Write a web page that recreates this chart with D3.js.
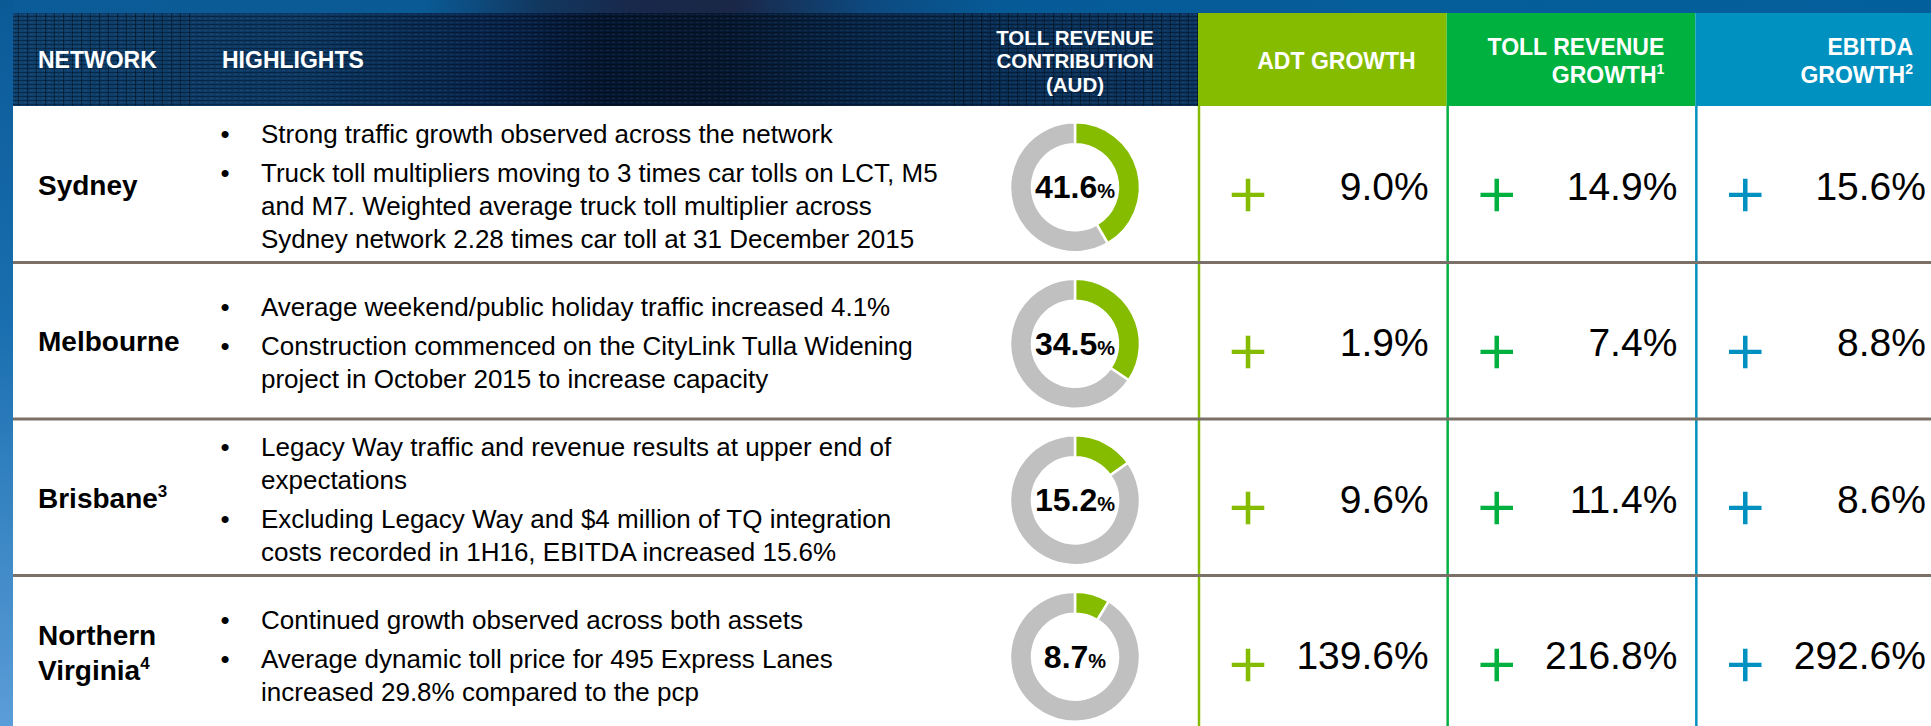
<!DOCTYPE html>
<html>
<head>
<meta charset="utf-8">
<script src="https://cdn.jsdelivr.net/npm/d3@7"></script>
<style>
  html, body { margin: 0; padding: 0; background: #fff; }
  svg { display: block; font-family: "Liberation Sans", Arial, sans-serif; }
</style>
</head>
<body>
<svg id="chart" width="1931" height="726"></svg>
<script>
// table content
const networks = ['Sydney', 'Melbourne', 'Brisbane', 'Northern Virginia'];
const networkLines = [['Sydney'], ['Melbourne'], ['Brisbane'], ['Northern', 'Virginia']];
const networkNotes = ['', '', '3', '4'];

const highlights = [
  [['Strong traffic growth observed across the network'],
   ['Truck toll multipliers moving to 3 times car tolls on LCT, M5',
    'and M7. Weighted average truck toll multiplier across',
    'Sydney network 2.28 times car toll at 31 December 2015']],
  [['Average weekend/public holiday traffic increased 4.1%'],
   ['Construction commenced on the CityLink Tulla Widening',
    'project in October 2015 to increase capacity']],
  [['Legacy Way traffic and revenue results at upper end of',
    'expectations'],
   ['Excluding Legacy Way and $4 million of TQ integration',
    'costs recorded in 1H16, EBITDA increased 15.6%']],
  [['Continued growth observed across both assets'],
   ['Average dynamic toll price for 495 Express Lanes',
    'increased 29.8% compared to the pcp']]
];

// toll revenue contribution, % of total (AUD)
const tollShare = [41.6, 34.5, 15.2, 8.7];

// growth columns, %
const adtGrowth = [9.0, 1.9, 9.6, 139.6];
const tollRevenueGrowth = [14.9, 7.4, 11.4, 216.8];
const ebitdaGrowth = [15.6, 8.8, 8.6, 292.6];

const metricNames = ['ADT GROWTH', 'TOLL REVENUE GROWTH', 'EBITDA GROWTH'];
const metricLines = [['ADT GROWTH'], ['TOLL REVENUE', 'GROWTH'], ['EBITDA', 'GROWTH']];
const metricNotes = ['', '1', '2'];
const metricValues = [adtGrowth, tollRevenueGrowth, ebitdaGrowth];
const metricColors = ['#86bc00', '#00b140', '#0091c1'];

const headerLabels = ['NETWORK', 'HIGHLIGHTS'];
const contributionLabel = ['TOLL REVENUE', 'CONTRIBUTION', '(AUD)'];

// page geometry
const W = 1931, H = 726;
const stripW = 13, bandH = 13, headBottom = 106;
const labelX = 38, bulletX = 225, textX = 261, donutX = 1075;

const svg = d3.select('#chart');
const defs = svg.append('defs');

const addGradient = (id, x2, y2, stops) => {
  const g = defs.append('linearGradient')
    .attr('id', id)
    .attr('gradientUnits', 'userSpaceOnUse')
    .attr('x1', 0).attr('y1', 0).attr('x2', x2).attr('y2', y2);
  stops.forEach(([o, c]) => g.append('stop').attr('offset', o).attr('stop-color', c));
};

addGradient('topBand', W, 0, [
  [0, '#0b5c98'], [0.22, '#0a5a95'], [0.28, '#12375f'], [0.33, '#18284a'],
  [0.38, '#1a2747'], [0.45, '#0d4a80'], [0.52, '#065b97'], [1, '#035f9b']
]);
addGradient('headBody', 1198, 0, [
  [0, '#0f416e'], [0.25, '#0c3862'], [0.42, '#08234a'], [0.5, '#051630'],
  [0.6, '#06172f'], [0.72, '#082648'], [0.85, '#0a3058'], [1, '#0b3560']
]);
addGradient('strip', 0, H, [
  [0, '#0a5a96'], [0.45, '#1a6fb0'], [1, '#5b9dd8']
]);

// scan-line texture of the dark header
const scan = defs.append('pattern')
  .attr('id', 'scan').attr('patternUnits', 'userSpaceOnUse')
  .attr('width', 6).attr('height', 4);
scan.append('rect').attr('width', 6).attr('height', 1).attr('fill', 'rgba(0,0,0,0.35)');
scan.append('rect').attr('y', 2).attr('width', 3).attr('height', 1).attr('fill', 'rgba(140,180,230,0.10)');
const vgrid = defs.append('pattern')
  .attr('id', 'vgrid').attr('patternUnits', 'userSpaceOnUse')
  .attr('width', 9).attr('height', 4);
vgrid.append('rect').attr('width', 1).attr('height', 4).attr('fill', 'rgba(0,0,0,0.4)');

// scales
const y = d3.scaleBand().domain(networks).range([headBottom, 732]);
const x = d3.scaleBand().domain(metricNames).range([1198, 1944]);
const rowMid = n => y(n) + y.bandwidth() / 2;

// backgrounds
svg.append('rect').attr('width', W).attr('height', H).attr('fill', '#fff');
svg.append('rect').attr('width', W).attr('height', bandH).attr('fill', 'url(#topBand)');
svg.append('rect').attr('x', stripW).attr('y', bandH)
  .attr('width', 1198 - stripW).attr('height', headBottom - bandH).attr('fill', 'url(#headBody)');
svg.append('rect').attr('x', stripW).attr('y', bandH)
  .attr('width', 1198 - stripW).attr('height', headBottom - bandH).attr('fill', 'url(#scan)');
svg.append('rect').attr('x', stripW).attr('y', bandH)
  .attr('width', 183).attr('height', headBottom - bandH).attr('fill', 'url(#vgrid)');
svg.append('rect').attr('x', 950).attr('y', bandH)
  .attr('width', 248).attr('height', headBottom - bandH).attr('fill', 'url(#vgrid)');

svg.selectAll('rect.mhead')
  .data(metricNames)
  .join('rect')
  .attr('class', 'mhead')
  .attr('x', d => x(d)).attr('y', bandH)
  .attr('width', x.bandwidth()).attr('height', headBottom - bandH)
  .attr('fill', (d, i) => metricColors[i]);

svg.append('rect').attr('width', stripW).attr('height', H).attr('fill', 'url(#strip)');

// header text
const head = svg.append('g').attr('fill', '#fff').attr('font-weight', 'bold');
head.append('text').attr('x', labelX).attr('y', 68).attr('font-size', 23).text(headerLabels[0]);
head.append('text').attr('x', 222).attr('y', 68).attr('font-size', 23).text(headerLabels[1]);
head.append('text')
  .attr('text-anchor', 'middle').attr('font-size', 20.5)
  .selectAll('tspan')
  .data(contributionLabel)
  .join('tspan')
  .attr('x', donutX).attr('y', (d, i) => 45 + i * 23.3)
  .text(d => d);

metricNames.forEach((m, i) => {
  const lines = metricLines[i];
  const right = x(m) + x.bandwidth() - 31;
  const first = lines.length === 1 ? 69 : 55;
  lines.forEach((line, j) => {
    const t = head.append('text')
      .attr('x', right).attr('y', first + j * 28)
      .attr('text-anchor', 'end').attr('font-size', 23);
    t.append('tspan').text(line);
    if (j === lines.length - 1 && metricNotes[i]) {
      t.append('tspan').attr('font-size', 14).attr('dy', -9).text(metricNotes[i]);
    }
  });
});

// column rules
svg.selectAll('line.vrule')
  .data(metricNames)
  .join('line')
  .attr('class', 'vrule')
  .attr('x1', d => x(d) + 1).attr('x2', d => x(d) + 1)
  .attr('y1', headBottom).attr('y2', H)
  .attr('stroke', (d, i) => metricColors[i])
  .attr('stroke-width', 2.5);

// row separators
svg.selectAll('line.sep')
  .data(networks.slice(0, -1))
  .join('line')
  .attr('class', 'sep')
  .attr('x1', stripW).attr('x2', W)
  .attr('y1', d => y(d) + y.bandwidth()).attr('y2', d => y(d) + y.bandwidth())
  .attr('stroke', '#7b7068')
  .attr('stroke-width', 3);

// network names
networks.forEach((n, i) => {
  const lines = networkLines[i];
  const base = rowMid(n) + 10.5 - (lines.length - 1) * 19;
  lines.forEach((line, j) => {
    const t = svg.append('text')
      .attr('x', labelX).attr('y', base + j * 35)
      .attr('font-size', 28).attr('font-weight', 'bold').attr('fill', '#000');
    t.append('tspan').text(line);
    if (j === lines.length - 1 && networkNotes[i]) {
      t.append('tspan').attr('font-size', 17).attr('dy', -11).text(networkNotes[i]);
    }
  });
});

// highlights, bullets
const lineH = 33, paraGap = 6, capH = 19;
networks.forEach((n, i) => {
  const paras = highlights[i];
  const offsets = [];
  let off = 0;
  paras.forEach((p, pi) => {
    if (pi > 0) off += lineH + paraGap;
    p.forEach((line, li) => {
      if (li > 0) off += lineH;
      offsets.push({ off, line, bullet: li === 0 });
    });
  });
  const b1 = rowMid(n) + 2 - (off - capH) / 2;
  const g = svg.append('g').attr('font-size', 26).attr('fill', '#000');
  offsets.forEach(o => {
    if (o.bullet) {
      g.append('text').attr('x', bulletX).attr('y', b1 + o.off)
        .attr('text-anchor', 'middle').text('\u2022');
    }
    g.append('text').attr('x', textX).attr('y', b1 + o.off).text(o.line);
  });
});

// contribution donuts
const pie = d3.pie().sort(null).value(d => d);
const arc = d3.arc().innerRadius(43).outerRadius(65);
networks.forEach((n, i) => {
  const cy = rowMid(n) + 3;
  const g = svg.append('g').attr('transform', `translate(${donutX},${cy})`);
  g.selectAll('path')
    .data(pie([tollShare[i], 100 - tollShare[i]]))
    .join('path')
    .attr('d', arc)
    .attr('fill', (d, k) => k === 0 ? '#86bc00' : '#c0c0c0')
    .attr('stroke', '#fff')
    .attr('stroke-width', 2.5);
  const t = g.append('text')
    .attr('y', 11).attr('text-anchor', 'middle')
    .attr('font-weight', 'bold').attr('fill', '#000');
  t.append('tspan').attr('font-size', 32).text(d3.format('.1f')(tollShare[i]));
  t.append('tspan').attr('font-size', 20).text('%');
});

// growth figures
const fmt = d3.format('.1f');
metricNames.forEach((m, mi) => {
  networks.forEach((n, i) => {
    const mid = rowMid(n);
    svg.append('text')
      .attr('x', x(m) + 50).attr('y', mid + 5)
      .attr('dy', '0.36em')
      .attr('text-anchor', 'middle')
      .attr('font-family', 'Inter, "Liberation Sans", sans-serif')
      .attr('font-weight', 300)
      .attr('font-size', 72)
      .attr('fill', metricColors[mi])
      .text('+');
    svg.append('text')
      .attr('x', x(m) + x.bandwidth() - 18).attr('y', mid + 15.5)
      .attr('text-anchor', 'end')
      .attr('font-size', 39)
      .attr('fill', '#000')
      .text(fmt(metricValues[mi][i]) + '%');
  });
});
</script>
</body>
</html>
